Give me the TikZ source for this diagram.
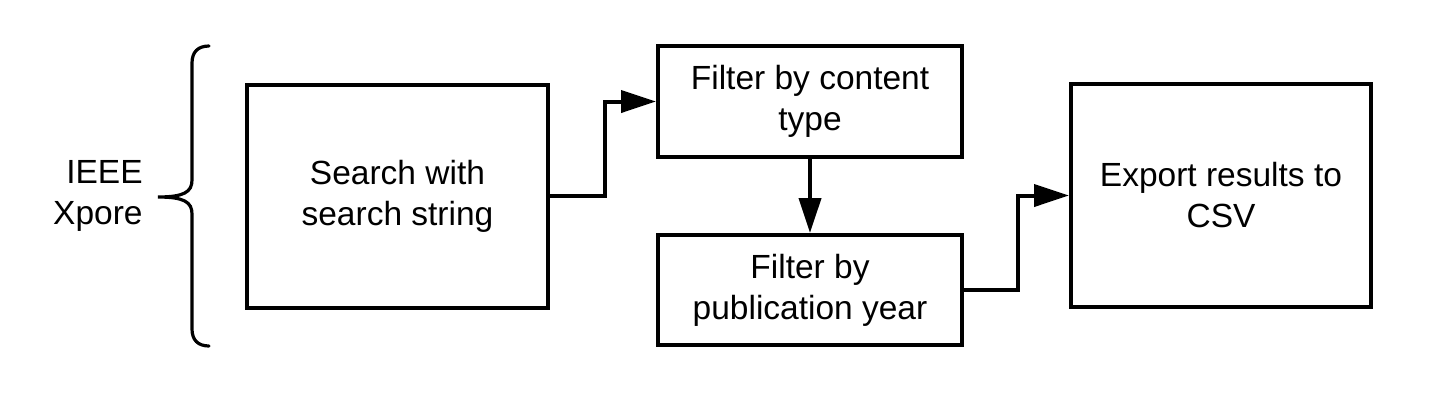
\documentclass[tikz,border=0pt]{standalone}
\usepackage{fontspec}
\setmainfont{Liberation Sans}
\usetikzlibrary{arrows.meta}
\begin{document}
\begin{tikzpicture}[x=0.5pt,y=-0.5pt,
  box/.style={draw,line width=2pt,inner sep=0pt,align=center,
    font=\fontsize{16.75pt}{20.5pt}\selectfont},
  arr/.style={line width=2pt,-{Triangle[length=17.5pt,width=11pt]}},
  lbl/.style={align=right,inner sep=0pt,font=\fontsize{16.75pt}{20.5pt}\selectfont}]
\useasboundingbox (0,0) rectangle (1429,413);
\node[box,minimum width=150.5pt,minimum height=111.5pt] (b1) at (397.5,196) {Search with\\search string};
\node[box,minimum width=152pt,minimum height=55.5pt] (b2) at (810,101.5) {Filter by content\\type};
\node[box,minimum width=152pt,minimum height=55pt] (b3) at (810,290) {Filter by\\publication year};
\node[box,minimum width=150pt,minimum height=111.5pt] (b4) at (1221,195.5) {Export results to\\CSV};
\node[lbl,anchor=east] (src) at (143,196) {IEEE\\Xpore};
\draw[arr] (b1.east) -- ++(55,0) |- (b2.west);
\draw[arr] (b2.south) -- (b3.north);
\draw[arr] (b3.east) -- ++(54,0) |- (b4.west);
\draw[line width=1.6pt,line cap=round] (209,46) .. controls (198,46) and (192,52) .. (192,63)
  -- (192,180) .. controls (192,192) and (184,197) .. (158,197)
  .. controls (184,197) and (192,202) .. (192,214)
  -- (192,329) .. controls (192,340) and (198,346) .. (209,346);
\end{tikzpicture}
\end{document}
